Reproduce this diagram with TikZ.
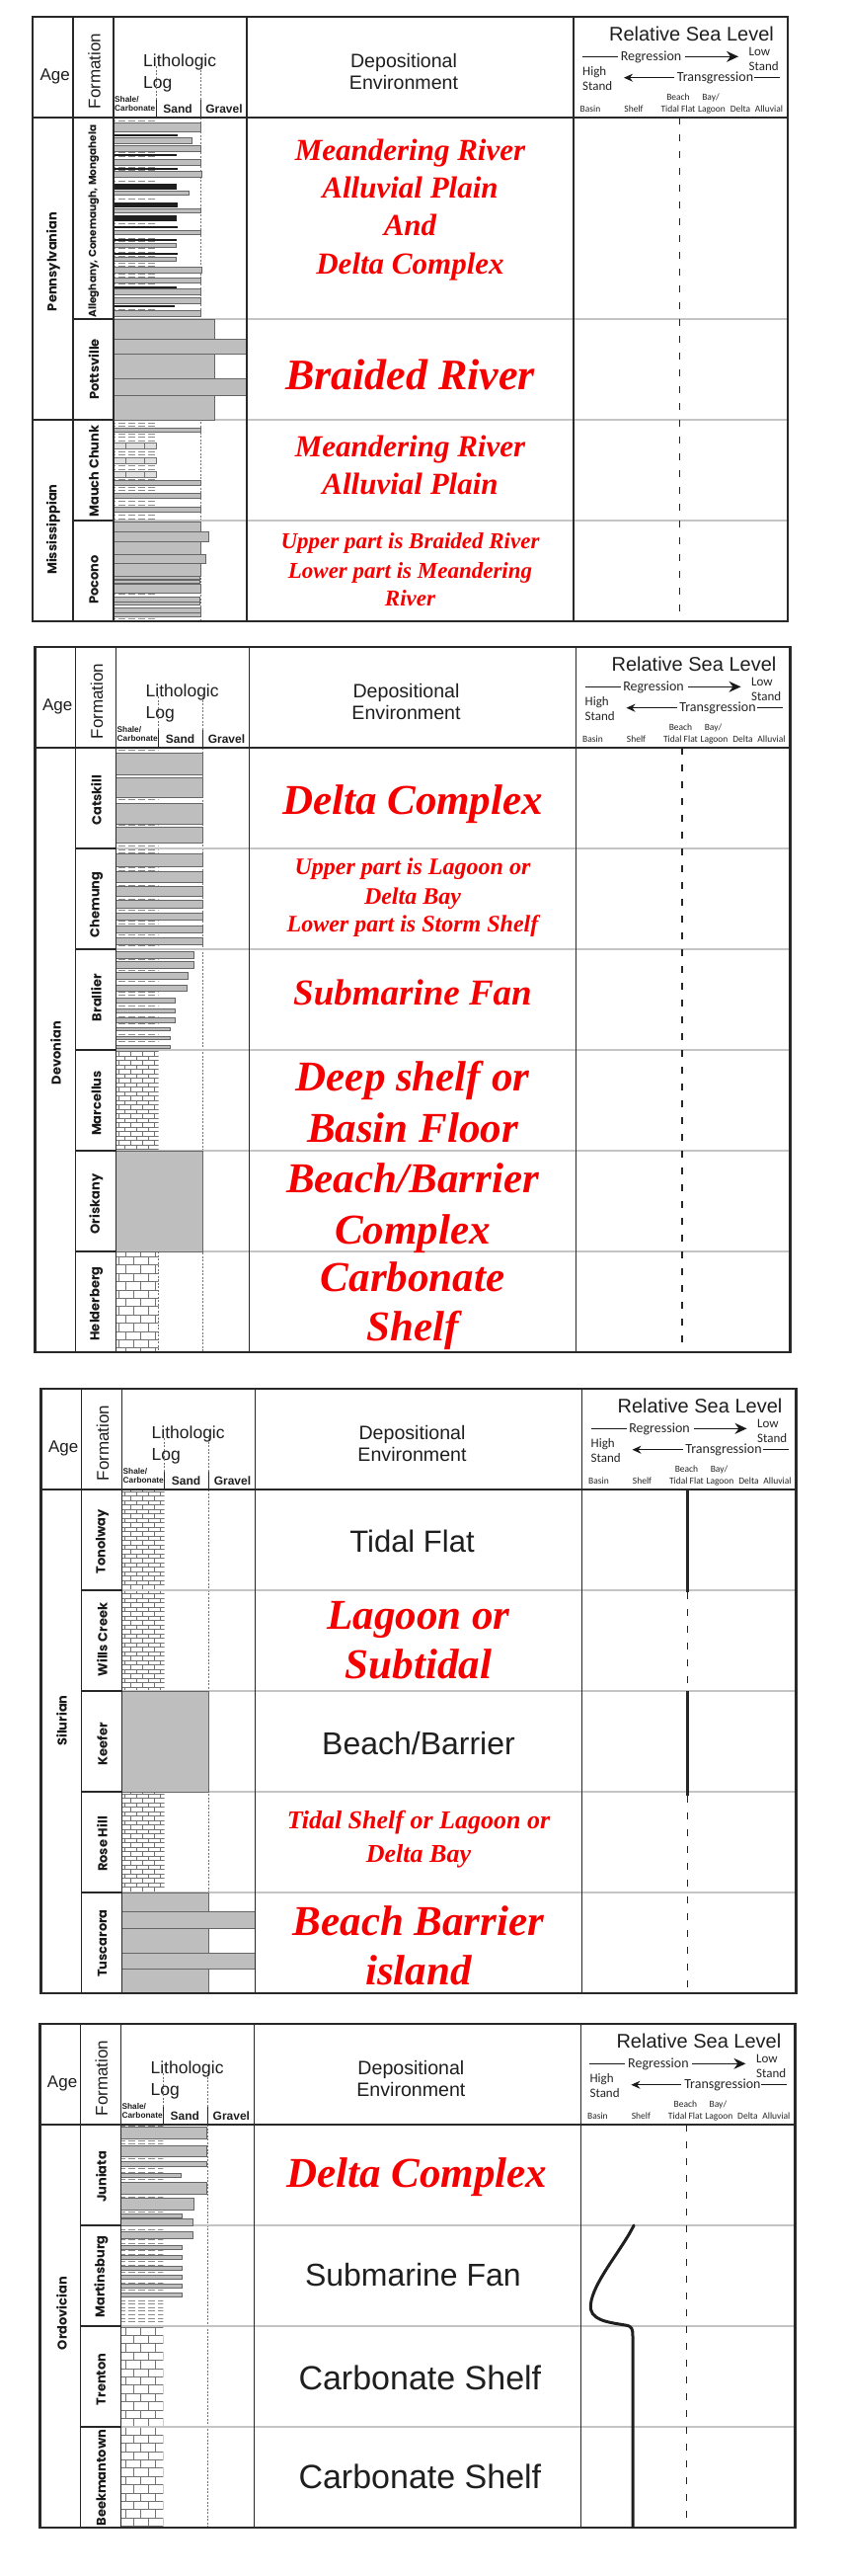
\documentclass[tikz,border=0pt]{standalone}
\usepackage{fontspec}
\setmainfont{Liberation Sans}
\newfontfamily\smf{Carlito}
\newfontfamily\redf{Liberation Serif}
\newfontfamily\popf{Poppins}
\usetikzlibrary{arrows.meta,patterns}

\pgfdeclarepatternformonly{shalepat}{\pgfpoint{-1pt}{-1pt}}{\pgfpoint{11pt}{4.6pt}}{\pgfpoint{10pt}{3.6pt}}{%
  \pgfsetlinewidth{0.9pt}%
  \pgfpathmoveto{\pgfpoint{0pt}{1.8pt}}\pgfpathlineto{\pgfpoint{7pt}{1.8pt}}%
  \pgfusepath{stroke}}
\pgfdeclarepatternformonly{bigbrick}{\pgfpoint{-1pt}{-1pt}}{\pgfpoint{16pt}{17.8pt}}{\pgfpoint{15pt}{16.8pt}}{%
  \pgfsetlinewidth{0.8pt}%
  \pgfpathmoveto{\pgfpoint{0pt}{0pt}}\pgfpathlineto{\pgfpoint{15pt}{0pt}}%
  \pgfpathmoveto{\pgfpoint{0pt}{8.4pt}}\pgfpathlineto{\pgfpoint{15pt}{8.4pt}}%
  \pgfpathmoveto{\pgfpoint{0pt}{0pt}}\pgfpathlineto{\pgfpoint{0pt}{8.4pt}}%
  \pgfpathmoveto{\pgfpoint{7.5pt}{8.4pt}}\pgfpathlineto{\pgfpoint{7.5pt}{16.8pt}}%
  \pgfusepath{stroke}}
\pgfdeclarepatternformonly{smallbrick}{\pgfpoint{-1pt}{-1pt}}{\pgfpoint{13pt}{10pt}}{\pgfpoint{12pt}{9pt}}{%
  \pgfsetlinewidth{0.7pt}%
  \pgfpathmoveto{\pgfpoint{0pt}{0pt}}\pgfpathlineto{\pgfpoint{12pt}{0pt}}%
  \pgfpathmoveto{\pgfpoint{0pt}{4.5pt}}\pgfpathlineto{\pgfpoint{12pt}{4.5pt}}%
  \pgfpathmoveto{\pgfpoint{0pt}{0pt}}\pgfpathlineto{\pgfpoint{0pt}{4.5pt}}%
  \pgfpathmoveto{\pgfpoint{6pt}{4.5pt}}\pgfpathlineto{\pgfpoint{6pt}{9pt}}%
  \pgfusepath{stroke}}

\definecolor{bargray}{RGB}{190,190,190}
\definecolor{rowgray}{RGB}{196,196,196}
\definecolor{framec}{RGB}{40,40,40}
\definecolor{redtxt}{RGB}{245,0,0}

\newcommand\rf[1]{\redf\bfseries\itshape\fontsize{#1}{#1}\selectfont}
\newcommand\fsz[1]{\fontsize{#1}{#1}\selectfont}

\tikzset{
 framebox/.style={draw=framec,line width=2.6},
 colline/.style={draw=framec,line width=1.2},
 darkrow/.style={draw=framec,line width=1.8},
 lightrow/.style={draw=rowgray,line width=1.8},
 sandbar/.style={fill=bargray,draw=black!60,line width=0.8},
 coalbar/.style={fill=black!88,draw=black!88,line width=0.4},
 shalefill/.style={pattern=shalepat,pattern color=black!45},
 bigbrickfill/.style={pattern=bigbrick,pattern color=black!55},
 smallbrickfill/.style={pattern=smallbrick,pattern color=black!55},
 limebox/.style={fill=black!12,draw=black!55,line width=0.6},
 gravdash/.style={draw=black!55,line width=0.5,dash pattern=on 2 off 1.5},
 rsldash/.style={draw=black!85,line width=1.3,dash pattern=on 7 off 10},
 rslsolid/.style={draw=black!85,line width=3.2},
 rslcurve/.style={draw=black!88,line width=3,line cap=round},
 redlab/.style={text=redtxt,anchor=base,inner sep=0},
 blklab/.style={text=black!88,anchor=base,inner sep=0},
 agelab/.style={rotate=90,font=\popf\bfseries\fsz{13},inner sep=0,text=black!90},
 fmlab/.style={rotate=90,font=\popf\bfseries\fsz{13},inner sep=0,text=black!90},
 hdrtxt/.style={anchor=base,inner sep=0,text=black!88},
 smtxt/.style={font=\smf\fsz{14},inner sep=0,anchor=base,text=black!85},
 tinytxt/.style={font=\smf\fsz{9.5},inner sep=0,anchor=base,text=black!85},
 rslarrow/.style={draw=black!90,line width=1.2},
}

\newcommand\panelframe[1]{%
 \draw[colline] (41,0) -- (41,#1) (82,0) -- (82,#1) (217,0) -- (217,#1) (548,0) -- (548,#1);
 \draw[framec,line width=2] (0,102) -- (765,102);
 \draw[framebox] (0,0) rectangle (765,#1);}

\newcommand\panelheader[1]{%
 \node[hdrtxt,font=\fsz{17}] (#1-age) at (22.7,64.7) {Age};
 \node[rotate=90,inner sep=0,font=\fsz{17},text=black!88] (#1-fm) at (62.5,55) {Formation};
 \node[hdrtxt,anchor=base west,font=\fsz{17.5}] (#1-lith) at (112,50) {Lithologic};
 \node[hdrtxt,anchor=base west,font=\fsz{17.5}] (#1-log) at (112,72) {Log};
 \draw[gravdash] (125,50) -- (125,84) (170,50) -- (170,84);
 \draw[framec,line width=1] (125,84) -- (125,102) (170,84) -- (170,102);
 \node[hdrtxt,anchor=base west,font=\bfseries\fsz{8.3}] (#1-sh) at (83,86) {Shale/};
 \node[hdrtxt,anchor=base west,font=\bfseries\fsz{8.3}] (#1-cb) at (83,95.7) {Carbonate};
 \node[hdrtxt,font=\bfseries\fsz{12}] (#1-sand) at (147,97.3) {Sand};
 \node[hdrtxt,font=\bfseries\fsz{12}] (#1-grav) at (194,97.3) {Gravel};
 \node[hdrtxt,font=\fsz{19.6}] (#1-dep) at (376,51) {Depositional};
 \node[hdrtxt,font=\fsz{19.6}] (#1-env) at (376,73) {Environment};
 \node[hdrtxt,font=\fsz{20}] (#1-rsl) at (667.5,24.7) {Relative Sea Level};
 \node[smtxt] (#1-reg) at (626.5,44.7) {Regression};
 \coordinate (#1-rg1) at (557,40.3); \coordinate (#1-rg2) at (593,40.3);
 \coordinate (#1-rg3) at (661,40.3); \coordinate (#1-rg4) at (715,40.3);
 \draw[rslarrow] (#1-rg1) -- (#1-rg2);
 \draw[rslarrow,-{Stealth[length=12,width=11]}] (#1-rg3) -- (#1-rg4);
 \node[smtxt] (#1-trn) at (691.5,65.7) {Transgression};
 \coordinate (#1-tr1) at (650,61.7); \coordinate (#1-tr2) at (599,61.7);
 \coordinate (#1-tr3) at (731,61.7); \coordinate (#1-tr4) at (757,61.7);
 \draw[rslarrow,-{Stealth[length=9,width=8]}] (#1-tr1) -- (#1-tr2);
 \draw[rslarrow] (#1-tr3) -- (#1-tr4);
 \node[smtxt,font=\smf\fsz{13},anchor=base west] (#1-low) at (725.5,39.7) {Low};
 \node[smtxt,font=\smf\fsz{13},anchor=base west] (#1-ls) at (725.5,54.7) {Stand};
 \node[smtxt,font=\smf\fsz{13},anchor=base west] (#1-high) at (557,59) {High};
 \node[smtxt,font=\smf\fsz{13},anchor=base west] (#1-hs) at (557,74.7) {Stand};
 \node[tinytxt] (#1-beach) at (654,84.7) {Beach};
 \node[tinytxt] (#1-bay) at (687,84.7) {Bay/};
 \node[tinytxt] (#1-basin) at (565,96.3) {Basin};
 \node[tinytxt] (#1-shelf) at (609,96.3) {Shelf};
 \node[tinytxt] (#1-tidal) at (654,96.3) {Tidal Flat};
 \node[tinytxt] (#1-lag) at (688,96.3) {Lagoon};
 \node[tinytxt] (#1-delta) at (717,96.3) {Delta};
 \node[tinytxt] (#1-all) at (746,96.3) {Alluvial};
}

\begin{document}
\begin{tikzpicture}[x=1pt,y=-1pt]
\fill[white] (0,0) rectangle (856,2608);
\useasboundingbox (0,0) rectangle (856,2608);

%%%%%%%%%%%%%%%% PANEL 1
\begin{scope}[shift={(33,17)}]
 \path[shalefill] (82,102) rectangle (125,306);
 \path[shalefill] (82,408) rectangle (125,612);
 \draw[gravdash] (170,102) -- (170,612);
 \foreach \yy in {306,408,510} \draw[lightrow] (82,\yy) -- (765,\yy);
 \foreach \ya/\yb/\xr in {107/116/170,122/128/161,130/136/170,144/150/170,156/162/171,176/180/158,194/198/170,216/220/170,229/233/145,243/247/145,253/259/171,264/269/170,275/281/170,284/290/170,297/303/170,
   306/326/184.5,326/341/217,341/366/184.5,366/383/217,383/408/184.5,
   416/420/170,469/474/170,482/487/170,496/501/170,
   511/521/170,521/531/178,531/544/170,544/553/175,553/566/170,566/569/169,570/573/169,574/583/170,587/592/169,592/595/169,598/603/170,603/607/170}
   \draw[sandbar] (82,\ya) rectangle (\xr,\yb);
 \foreach \ya/\yb/\xr in {119/120.6/146,139/140.6/145,153/154.6/146,169/174/145,188/192/146,201/206/145,212/213.6/146,225/226.6/145,239/240.6/146,273/274.6/145,292/293.6/143}
   \draw[coalbar] (82,\ya) rectangle (\xr,\yb);
 \foreach \ya/\yb in {431/437,446/452,460/466}
   {\draw[limebox] (82,\ya) rectangle (125,\yb); \draw[limebox] (94,\ya) -- (94,\yb) (113,\ya) -- (113,\yb);}
 \panelframe{612}
 \draw[darkrow] (0,408) -- (41,408);
 \foreach \yy in {306,408,510} \draw[darkrow] (41,\yy) -- (82,\yy);
 \draw[rsldash] (655.5,102) -- (655.5,612);
 \panelheader{p1}
 \node[agelab] (p1-penn) at (21,248) {Pennsylvanian};
 \node[agelab] (p1-miss) at (21,519) {Mississippian};
 \node[fmlab,font=\popf\bfseries\fsz{10.5}] (p1-f1) at (62,207) {Alleghany, Conemaugh, Mongahela};
 \node[fmlab] (p1-f2) at (62,357) {Pottsville};
 \node[fmlab] (p1-f3) at (62,460) {Mauch Chunk};
 \node[fmlab] (p1-f4) at (62,570) {Pocono};
 \node[redlab,font=\rf{31}] (p1-e1) at (382.5,145.3) {Meandering River};
 \node[redlab,font=\rf{31}] (p1-e2) at (382.5,183.3) {Alluvial Plain};
 \node[redlab,font=\rf{31}] (p1-e3) at (382.5,221.3) {And};
 \node[redlab,font=\rf{31}] (p1-e4) at (382.5,260.3) {Delta Complex};
 \node[redlab,font=\rf{44}] (p1-e5) at (382.5,377.6) {Braided River};
 \node[redlab,font=\rf{31}] (p1-e6) at (382.5,445.3) {Meandering River};
 \node[redlab,font=\rf{31}] (p1-e7) at (382.5,483.3) {Alluvial Plain};
 \node[redlab,font=\rf{23}] (p1-e8) at (382.5,538.6) {Upper part is Braided River};
 \node[redlab,font=\rf{23}] (p1-e9) at (382.5,568.6) {Lower part is Meandering};
 \node[redlab,font=\rf{23}] (p1-e10) at (382.5,596.6) {River};
\end{scope}

%%%%%%%%%%%%%%%% PANEL 2
\begin{scope}[shift={(35.5,655)}]
 \path[shalefill] (82,102) rectangle (125,408);
 \path[smallbrickfill] (82,408) rectangle (125,510);
 \path[bigbrickfill] (82,612) rectangle (125,714);
 \draw[gravdash] (170,102) -- (170,714);
 \draw[gravdash] (125,612) -- (125,714);
 \foreach \yy in {204,306,408,510,612} \draw[lightrow] (82,\yy) -- (765,\yy);
 \foreach \ya/\yb/\xr in {107/129/170,132/152/170,158/179/170,182/198/170,
   209/222/170,227/238/170,242/252/170,256/264/170,269/276/170,282/289/170,294/301/170,
   308/315/161,318/325/161,329/336/155,342/348/154,355/360/142,366/370/142,375/380/142,385/388/136.5,394/397/136.5,403/406/136.5,
   510/612/170}
   \draw[sandbar] (82,\ya) rectangle (\xr,\yb);
 \panelframe{714}
 \foreach \yy in {204,306,408,510,612} \draw[darkrow] (41,\yy) -- (82,\yy);
 \draw[rsldash] (655.5,102) -- (655.5,714);
 \panelheader{p2}
 \node[agelab] (p2-dev) at (21,411) {Devonian};
 \node[fmlab] (p2-f1) at (62,155) {Catskill};
 \node[fmlab] (p2-f2) at (62,261) {Chemung};
 \node[fmlab] (p2-f3) at (62,355) {Brallier};
 \node[fmlab] (p2-f4) at (62,462) {Marcellus};
 \node[fmlab] (p2-f5) at (62,564) {Oriskany};
 \node[fmlab] (p2-f6) at (62,665) {Helderberg};
 \node[redlab,font=\rf{43}] (p2-e1) at (382.5,169.2) {Delta Complex};
 \node[redlab,font=\rf{24}] (p2-e2) at (382.5,230) {Upper part is Lagoon or};
 \node[redlab,font=\rf{24}] (p2-e3) at (382.5,260) {Delta Bay};
 \node[redlab,font=\rf{24}] (p2-e4) at (382.5,288) {Lower part is Storm Shelf};
 \node[redlab,font=\rf{37}] (p2-e5) at (382.5,362.2) {Submarine Fan};
 \node[redlab,font=\rf{43}] (p2-e6) at (382.5,449.2) {Deep shelf or};
 \node[redlab,font=\rf{43}] (p2-e7) at (382.5,501.2) {Basin Floor};
 \node[redlab,font=\rf{43}] (p2-e8) at (382.5,552.2) {Beach/Barrier};
 \node[redlab,font=\rf{43}] (p2-e9) at (382.5,604.2) {Complex};
 \node[redlab,font=\rf{43}] (p2-e10) at (382.5,652.2) {Carbonate};
 \node[redlab,font=\rf{43}] (p2-e11) at (382.5,702.2) {Shelf};
\end{scope}

%%%%%%%%%%%%%%%% PANEL 3
\begin{scope}[shift={(41.5,1406)}]
 \path[smallbrickfill] (82,102) rectangle (125,306);
 \path[smallbrickfill] (82,408) rectangle (125,510);
 \draw[gravdash] (170,102) -- (170,612);
 \foreach \yy in {204,306,408,510} \draw[lightrow] (82,\yy) -- (765,\yy);
 \foreach \ya/\yb/\xr in {306/408/170,510/529/170,529/546/217,546/571/170,571/587/217,587/612/170}
   \draw[sandbar] (82,\ya) rectangle (\xr,\yb);
 \panelframe{612}
 \foreach \yy in {204,306,408,510} \draw[darkrow] (41,\yy) -- (82,\yy);
 \draw[rslsolid] (655.2,102) -- (655.2,206);
 \draw[rsldash] (655.2,206) -- (655.2,306);
 \draw[rslsolid] (655.2,306) -- (655.2,412);
 \draw[rsldash] (655.2,412) -- (655.2,612);
 \panelheader{p3}
 \node[agelab] (p3-sil) at (21,336) {Silurian};
 \node[fmlab] (p3-f1) at (62,155) {Tonolway};
 \node[fmlab] (p3-f2) at (62,254) {Wills Creek};
 \node[fmlab] (p3-f3) at (62,360) {Keefer};
 \node[fmlab] (p3-f4) at (62,461) {Rose Hill};
 \node[fmlab] (p3-f5) at (62,561.5) {Tuscarora};
 \node[blklab,font=\fsz{31}] (p3-e1) at (376,165) {Tidal Flat};
 \node[redlab,font=\rf{43}] (p3-e2) at (382.5,243.2) {Lagoon or};
 \node[redlab,font=\rf{43}] (p3-e3) at (382.5,293.2) {Subtidal};
 \node[blklab,font=\fsz{32}] (p3-e4) at (382.5,370.5) {Beach/Barrier};
 \node[redlab,font=\rf{26}] (p3-e5) at (382.5,445.6) {Tidal Shelf or Lagoon or};
 \node[redlab,font=\rf{26}] (p3-e6) at (382.5,479.6) {Delta Bay};
 \node[redlab,font=\rf{43}] (p3-e7) at (382.5,553.2) {Beach Barrier};
 \node[redlab,font=\rf{43}] (p3-e8) at (382.5,603.2) {island};
\end{scope}

%%%%%%%%%%%%%%%% PANEL 4
\begin{scope}[shift={(40.4,2049)}]
 \path[shalefill] (82,102) rectangle (125,306);
 \path[bigbrickfill] (82,306) rectangle (125,510);
 \draw[gravdash] (170,102) -- (170,510);
 \foreach \yy in {204,306,408} \draw[lightrow] (82,\yy) -- (765,\yy);
 \foreach \ya/\yb/\xr in {104/116/169,123/134/169,139/144/169,151/155/143,160/172/169,176/188/156,192/196/144,197/204/155,
   210/217/155,224/228/144,234/238/144,245/249/144,254/258/144,263/267/144,272/276/144}
   \draw[sandbar] (82,\ya) rectangle (\xr,\yb);
 \panelframe{510}
 \foreach \yy in {204,306,408} \draw[darkrow] (41,\yy) -- (82,\yy);
 \draw[rsldash] (655.2,102) -- (655.2,510);
 \draw[rslcurve] (601.7,204) .. controls (590,228) and (560,262) .. (558,284)
   .. controls (556,300) and (575,302) .. (593,305)
   .. controls (600,306) and (600.6,309) .. (600.6,316) -- (600.6,509);
 \panelheader{p4}
 \node[agelab] (p4-ord) at (22,293) {Ordovician};
 \node[fmlab] (p4-f1) at (62,155) {Juniata};
 \node[fmlab] (p4-f2) at (62,256) {Martinsburg};
 \node[fmlab] (p4-f3) at (62,360) {Trenton};
 \node[fmlab] (p4-f4) at (62,459.6) {Beekmantown};
 \node[redlab,font=\rf{43}] (p4-e1) at (382,165.2) {Delta Complex};
 \node[blklab,font=\fsz{32}] (p4-e2) at (378,265.5) {Submarine Fan};
 \node[blklab,font=\fsz{34}] (p4-e3) at (385,370.2) {Carbonate Shelf};
 \node[blklab,font=\fsz{34}] (p4-e4) at (385,470.2) {Carbonate Shelf};
\end{scope}
\end{tikzpicture}
\end{document}
